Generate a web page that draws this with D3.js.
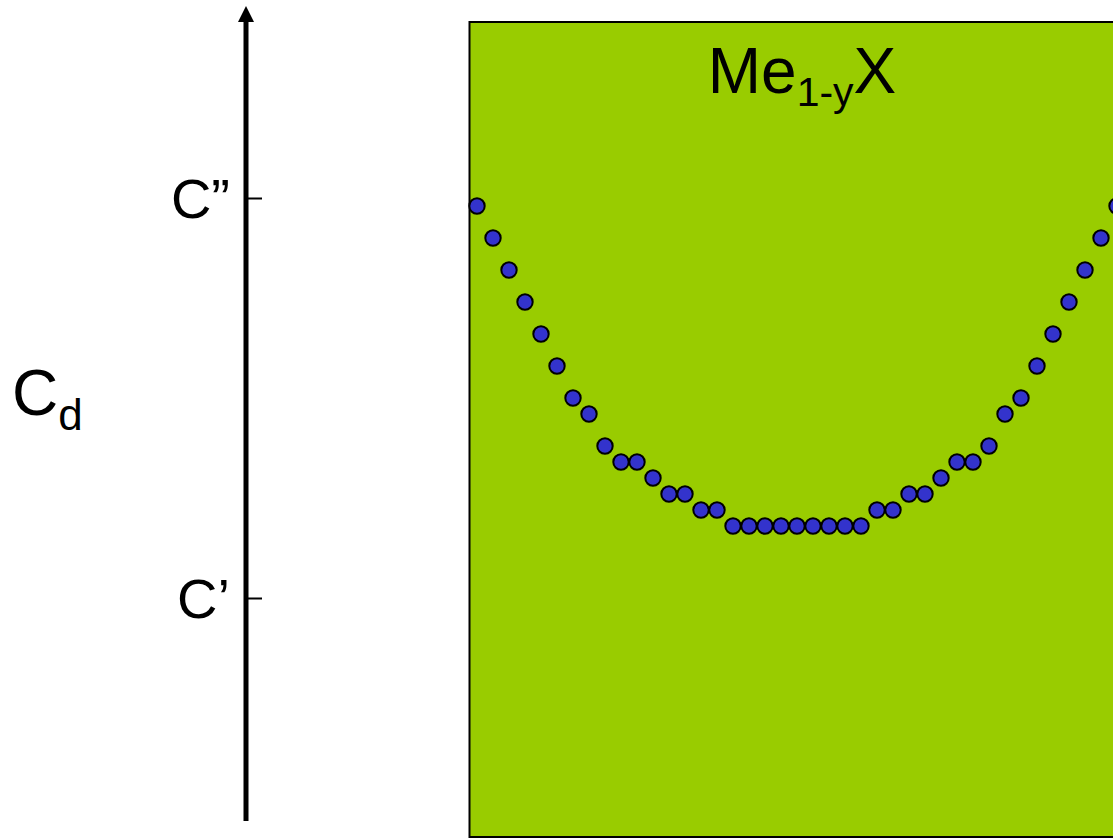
<!DOCTYPE html>
<html>
<head>
<meta charset="utf-8">
<script src="https://cdn.jsdelivr.net/npm/d3@7"></script>
<style>
  html, body { margin: 0; padding: 0; background: #ffffff; overflow: hidden; }
  svg { display: block; }
  text { font-family: "Liberation Sans", Arial, Helvetica, sans-serif; fill: #000; }
</style>
</head>
<body>
<svg id="chart" width="1113" height="838"></svg>
<script>
// Position of each site across the Me(1-y)X layer (site index)
const sitePositions = [0, 1, 2, 3, 4, 5, 6, 7, 8, 9, 10, 11, 12, 13, 14, 15, 16, 17, 18, 19,
                       20, 21, 22, 23, 24, 25, 26, 27, 28, 29, 30, 31, 32, 33, 34, 35, 36, 37, 38, 39, 40];
// Defect concentration at each site, on a scale where C' = 0 and C'' = 1
const defectConc = [0.98, 0.90, 0.82, 0.74, 0.66, 0.58, 0.50, 0.46, 0.38, 0.34, 0.34,
                    0.30, 0.26, 0.26, 0.22, 0.22, 0.18, 0.18, 0.18, 0.18, 0.18, 0.18,
                    0.18, 0.18, 0.18, 0.22, 0.22, 0.26, 0.26, 0.30, 0.34, 0.34, 0.38,
                    0.46, 0.50, 0.58, 0.66, 0.74, 0.82, 0.90, 0.98];
// Reference levels marked on the concentration axis
const tickValues = [0, 1];
const tickLabels = ["C\u2019", "C\u201D"];

const svg = d3.select("#chart");

const axisX = 246;
const y = d3.scaleLinear().domain([0, 1]).range([598, 198]);
const x = d3.scaleLinear().domain([0, 40]).range([477, 1117]);

// Layer box
svg.append("rect")
  .attr("x", 469.5).attr("y", 22)
  .attr("width", 700).attr("height", 815)
  .attr("fill", "#99cc00")
  .attr("stroke", "#000").attr("stroke-width", 2);

// Layer title: Me(1-y)X
const title = svg.append("text")
  .attr("x", 802).attr("y", 93)
  .attr("text-anchor", "middle")
  .style("font-size", "64px");
title.append("tspan").text("Me");
title.append("tspan").attr("dy", 13).style("font-size", "41px").text("1-y");
title.append("tspan").attr("dy", -13).text("X");

// Concentration axis with arrow
svg.append("defs").append("marker")
  .attr("id", "arrowHead")
  .attr("viewBox", "0 0 16 16")
  .attr("refX", 8).attr("refY", 16)
  .attr("markerWidth", 16).attr("markerHeight", 16)
  .attr("markerUnits", "userSpaceOnUse")
  .attr("orient", "0")
  .append("path")
  .attr("d", "M0,16 L8,0 L16,16 Z")
  .attr("fill", "#000");

svg.append("line")
  .attr("x1", axisX).attr("x2", axisX)
  .attr("y1", 821).attr("y2", 22)
  .attr("stroke", "#000").attr("stroke-width", 5)
  .attr("marker-end", "url(#arrowHead)");

const axis = d3.axisLeft(y)
  .tickValues(tickValues)
  .tickFormat((d, i) => tickLabels[i])
  .tickSizeInner(-16)
  .tickSizeOuter(0)
  .tickPadding(16);

const gAxis = svg.append("g")
  .attr("transform", `translate(${axisX},0)`)
  .call(axis);
gAxis.select(".domain").remove();
gAxis.selectAll(".tick line").attr("stroke", "#000").attr("stroke-width", 2);
gAxis.selectAll(".tick text")
  .attr("dy", "0.34em")
  .style("font-size", "56px")
  .style("font-family", "\"Liberation Sans\", Arial, sans-serif")
  .attr("fill", "#000");

// Axis title C_d
const yTitle = svg.append("text")
  .attr("x", 12).attr("y", 415)
  .style("font-size", "64px");
yTitle.append("tspan").text("C");
yTitle.append("tspan").attr("dy", 15).style("font-size", "44px").text("d");

// Site concentration points
svg.append("g")
  .selectAll("circle")
  .data(sitePositions.map((p, i) => ({ p, c: defectConc[i] })))
  .join("circle")
  .attr("cx", d => x(d.p))
  .attr("cy", d => y(d.c))
  .attr("r", 7.7)
  .attr("fill", "#3333cc")
  .attr("stroke", "#000")
  .attr("stroke-width", 2);
</script>
</body>
</html>
